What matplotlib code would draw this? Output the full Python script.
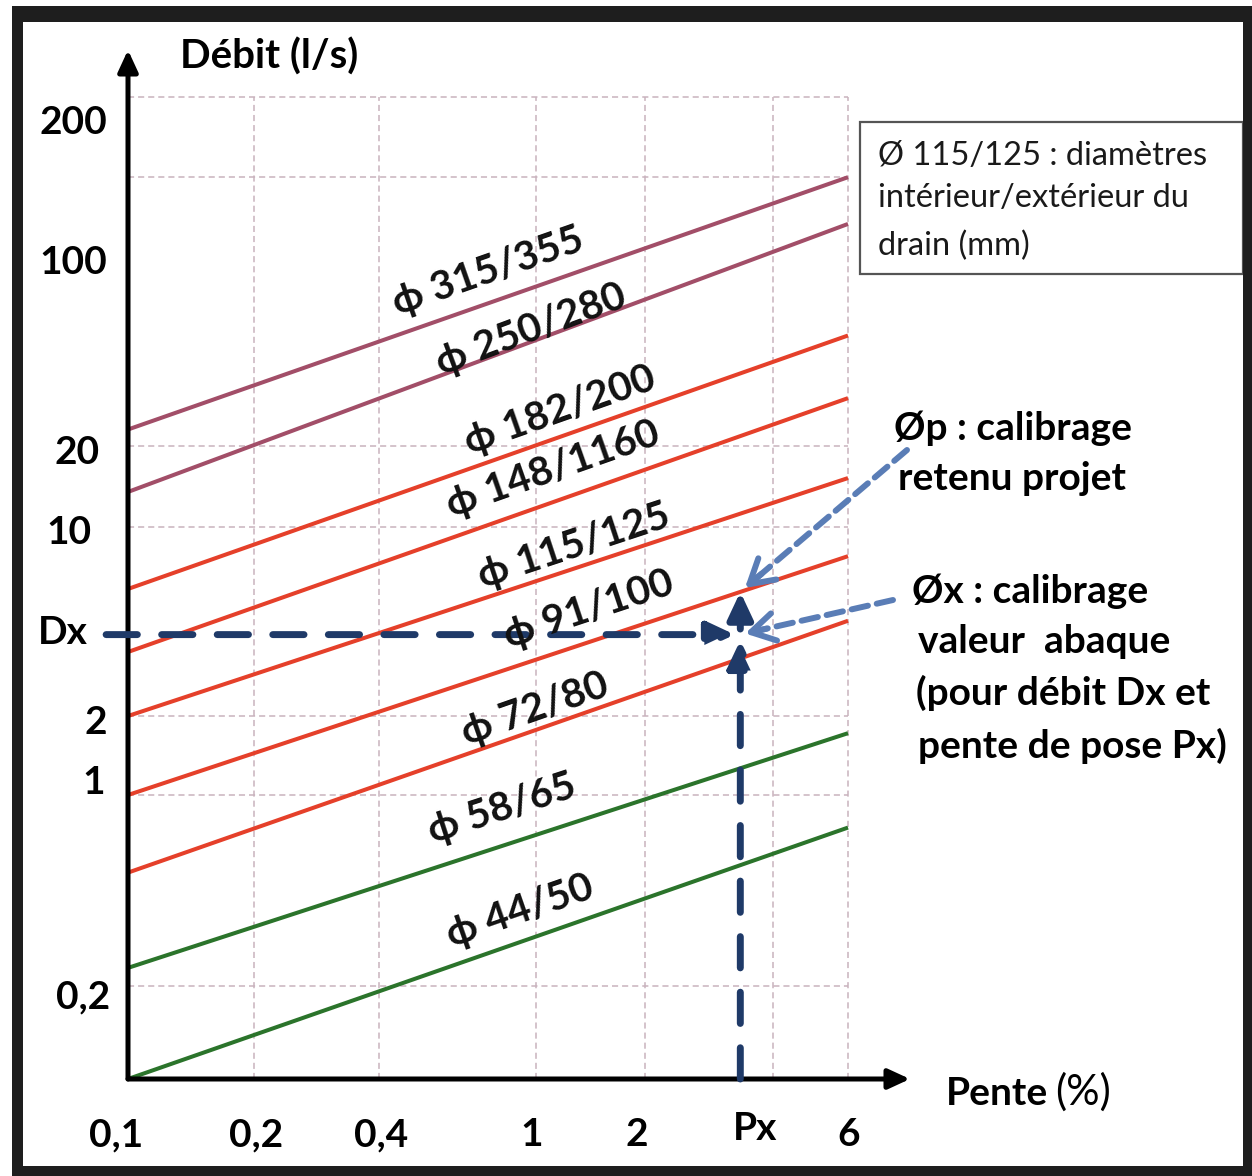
import numpy as np
import matplotlib
matplotlib.use('Agg')
import matplotlib.pyplot as plt
from matplotlib.patches import Rectangle, FancyArrowPatch

# ---------------- data (read from the abaque) ----------------
pente_ticks = [0.1, 0.2, 0.4, 1, 2, 6]
pente_tick_labels = ['0,1', '0,2', '0,4', '1', '2', '6']
debit_ticks = [0.2, 1, 2, 10, 20, 100, 200]
debit_tick_labels = ['0,2', '1', '2', '10', '20', '100', '200']
pente_grid = [0.2, 0.4, 1, 2, 4, 6]
debit_grid = [0.2, 1, 2, 10, 20, 141, 200]

drains = ['315/355', '250/280', '182/200', '148/1160', '115/125',
          '91/100', '72/80', '58/65', '44/50']
debit_at_pente_min = [23, 13.5, 5.9, 3.45, 2.0, 1.0, 0.52, 0.233, 0.09]
debit_at_pente_max = [141, 115, 51, 30, 15.2, 7.8, 4.5, 1.72, 0.76]
pente_min, pente_max = 0.1, 6

Px = 3.35        # pente de pose
Dx = 4.0         # débit
drain_p = '91/100'   # calibrage retenu

# ---------------- styles / layout ----------------
mauve, red, green = '#A24E68', '#E5402A', '#2B742B'
line_colors = [mauve, mauve, red, red, red, red, red, green, green]
label_t = [0.50, 0.56, 0.60, 0.59, 0.62, 0.64, 0.565, 0.52, 0.545]
label_off = [32, 12, 26, 33, 22, 32, 21, 37, 31]

# piecewise logarithmic scale geometry of the schematic abaque
x_anchor_val = [0.1, 0.2, 0.4, 1, 2, 6, 8.2]
x_anchor_pos = [0, 126, 251, 408, 517, 720, 782]
y_anchor_val = [0.09, 0.2, 1, 2, 10, 20, 100, 200, 245]
y_anchor_pos = [0, 93, 284, 363, 552, 633, 823, 982, 1029]

plt.rcParams['font.family'] = ['Lato', 'DejaVu Sans']

W, H = 1252, 1176
fig = plt.figure(figsize=(W / 100, H / 100), dpi=100)
fig.patch.set_facecolor('white')

ax_l, ax_r, ax_b, ax_t = 128, 910, 1079, 50
ax = fig.add_axes([ax_l / W, 1 - ax_b / H, (ax_r - ax_l) / W, (ax_b - ax_t) / H])


def piecewise_log(vals, pos):
    lv = np.log10(np.asarray(vals, float))
    p = np.asarray(pos, float)

    def fwd(v):
        v = np.asarray(v, float)
        l = np.log10(np.clip(v, 1e-12, None))
        return np.interp(l, lv, p)

    def inv(q):
        return 10 ** np.interp(np.asarray(q, float), p, lv)
    return fwd, inv


ax.set_xscale('function', functions=piecewise_log(x_anchor_val, x_anchor_pos))
ax.set_yscale('function', functions=piecewise_log(y_anchor_val, y_anchor_pos))
ax.set_xlim(x_anchor_val[0], x_anchor_val[-1])
ax.set_ylim(y_anchor_val[0], y_anchor_val[-1])
ax.set_xticks([])
ax.set_yticks([])
for s in ax.spines.values():
    s.set_visible(False)
ax.patch.set_alpha(0)

ymin = y_anchor_val[0]

# grid
grid_kw = dict(colors='#C9B3BD', linewidths=1.1, linestyles=[(0, (4, 2.6))], zorder=1)
ax.hlines(debit_grid, pente_min, pente_max, **grid_kw)
ax.vlines(pente_grid, ymin, max(debit_grid), **grid_kw)

# drain lines
for i, name in enumerate(drains):
    ax.plot([pente_min, pente_max], [debit_at_pente_min[i], debit_at_pente_max[i]],
            color=line_colors[i], lw=2.9, solid_capstyle='butt', zorder=3)

T = ax.transData
bold = 'bold'
for i, name in enumerate(drains):
    p0 = T.transform((pente_min, debit_at_pente_min[i]))
    p1 = T.transform((pente_max, debit_at_pente_max[i]))
    ang = np.degrees(np.arctan2(p1[1] - p0[1], p1[0] - p0[0]))
    pm = p0 + label_t[i] * (p1 - p0)
    xy = T.inverted().transform(pm)
    ax.annotate('ϕ ' + name, xy=xy, xytext=(0, label_off[i]), textcoords='offset pixels',
                rotation=ang, rotation_mode='anchor', ha='center', va='center',
                fontsize=29, fontweight=bold, color='#111111', zorder=5)

# axes with arrows
axis_kw = dict(arrowstyle='-|>,head_length=1.3,head_width=0.6', color='black', lw=3.6,
               shrinkA=0, shrinkB=0, mutation_scale=10)
ax.annotate('', xy=(0, 1), xycoords='axes fraction', xytext=(0, 0),
            textcoords='axes fraction', arrowprops=axis_kw, annotation_clip=False)
ax.annotate('', xy=(1, 0), xycoords='axes fraction', xytext=(0, 0),
            textcoords='axes fraction', arrowprops=axis_kw, annotation_clip=False)

# tick labels
x_lab_dx = [-12, 2, 2, -4, -8, 1]
for v, s, dx in zip(pente_ticks, pente_tick_labels, x_lab_dx):
    ax.annotate(s, xy=(v, 0), xycoords=('data', 'axes fraction'), xytext=(dx, -56),
                textcoords='offset pixels', ha='center', va='center', fontsize=28,
                fontweight=bold, annotation_clip=False)
ax.annotate('Px', xy=(Px, 0), xycoords=('data', 'axes fraction'), xytext=(15, -50),
            textcoords='offset pixels', ha='center', va='center', fontsize=28,
            fontweight=bold, annotation_clip=False)

y_lab_dx = [-18, -23, -21, -36, -28, -21, -21]
y_lab_dy = [-11, 12, -7, -6, -6, -6, -25]
for v, s, dx, dy in zip(debit_ticks, debit_tick_labels, y_lab_dx, y_lab_dy):
    ax.annotate(s, xy=(0, v), xycoords=('axes fraction', 'data'), xytext=(dx, dy),
                textcoords='offset pixels', ha='right', va='center', fontsize=28,
                fontweight=bold, annotation_clip=False)
ax.annotate('Dx', xy=(0, Dx), xycoords=('axes fraction', 'data'), xytext=(-40, 2),
            textcoords='offset pixels', ha='right', va='center', fontsize=28,
            fontweight=bold, annotation_clip=False)

# axis titles
fig.text(180 / W, 1 - 69 / H, 'Débit (l/s)', ha='left', va='baseline', fontsize=29,
         fontweight=bold)
fig.text(946 / W, 1 - 1105 / H, 'Pente', ha='left', va='baseline', fontsize=28,
         fontweight=bold)
fig.text(1055 / W, 1 - 1105 / H, '(%)', ha='left', va='baseline', fontsize=30)

# Dx / Px dashed construction
navy = '#1F3A68'
dash_kw = dict(arrowstyle='-|>,head_length=1.6,head_width=0.75', color=navy, lw=5,
               linestyle=(0, (4.5, 3.5)), shrinkA=0, shrinkB=4, mutation_scale=10)
ax.annotate('', xy=(Px, Dx), xycoords='data', xytext=(-0.028, Dx),
            textcoords=('axes fraction', 'data'), arrowprops=dash_kw,
            annotation_clip=False)
ax.annotate('', xy=(Px, Dx), xycoords='data', xytext=(Px, ymin),
            textcoords='data', arrowprops=dash_kw, annotation_clip=False)

# point of the chosen drain above (Px, Dx)
ip = drains.index(drain_p)
q0 = T.transform((pente_min, debit_at_pente_min[ip]))
q1 = T.transform((pente_max, debit_at_pente_max[ip]))
xpx = T.transform((Px, Dx))
frac = (xpx[0] - q0[0]) / (q1[0] - q0[0])
p_disp = q0 + frac * (q1 - q0)
p_data = T.inverted().transform(p_disp)
ax.annotate('', xy=p_data, xycoords='data', xytext=(Px, Dx), textcoords='data',
            arrowprops=dict(arrowstyle='-|>,head_length=1.6,head_width=0.75', color=navy,
                            lw=5, shrinkA=4, shrinkB=0, mutation_scale=10))

# light-blue call-out arrows
light = '#5A7DB6'


def callout(start_px, tip_data, shrink):
    tip = T.transform(tip_data)
    st = np.array([start_px[0], H - start_px[1]], float)
    u = (tip - st) / np.hypot(*(tip - st))
    tip2 = tip - u * shrink
    fig.add_artist(FancyArrowPatch(
        st, tip2 - u * 14, transform=None, arrowstyle='-', color=light, lw=4.3,
        linestyle=(0, (2.8, 1.5)), shrinkA=0, shrinkB=0))
    fig.add_artist(FancyArrowPatch(
        tip2 - u * 22, tip2, transform=None,
        arrowstyle='->,head_length=1.7,head_width=1.0', color=light, lw=4.3,
        shrinkA=0, shrinkB=0, mutation_scale=10))


callout((907, 450), p_data, 6)
callout((893, 600), (Px, Dx), 5)

# call-out texts
callout_lines = [('Øp : calibrage', 894, 440), ('retenu projet', 898, 490),
                 ('Øx : calibrage', 912, 603), ('valeur  abaque', 918, 653),
                 ('(pour débit Dx et', 916, 705), ('pente de pose Px)', 918, 758)]
for s, x, y in callout_lines:
    fig.text(x / W, 1 - y / H, s, ha='left', va='baseline', fontsize=28, fontweight=bold)

# legend box
fig.add_artist(Rectangle((860 / W, 1 - 274 / H), (1243 - 860) / W, (274 - 122) / H,
                         transform=fig.transFigure, facecolor='white',
                         edgecolor='#555555', lw=1.6))
legend_lines = [('Ø 115/125 : diamètres', 165), ('intérieur/extérieur du', 207),
                ('drain (mm)', 255)]
for s, y in legend_lines:
    fig.text(878 / W, 1 - y / H, s, ha='left', va='baseline', fontsize=23.5,
             color='#1a1a1a')

# dark outer frame
frame = '#1E1E1E'
for (x0, y0, x1, y1) in [(12, 6, 1252, 22), (12, 6, 23, 1176), (1243, 6, 1252, 1176),
                         (12, 1166, 1252, 1176)]:
    fig.add_artist(Rectangle((x0 / W, 1 - y1 / H), (x1 - x0) / W, (y1 - y0) / H,
                             transform=fig.transFigure, facecolor=frame, edgecolor='none'))

fig.savefig('out.png', dpi=100)
